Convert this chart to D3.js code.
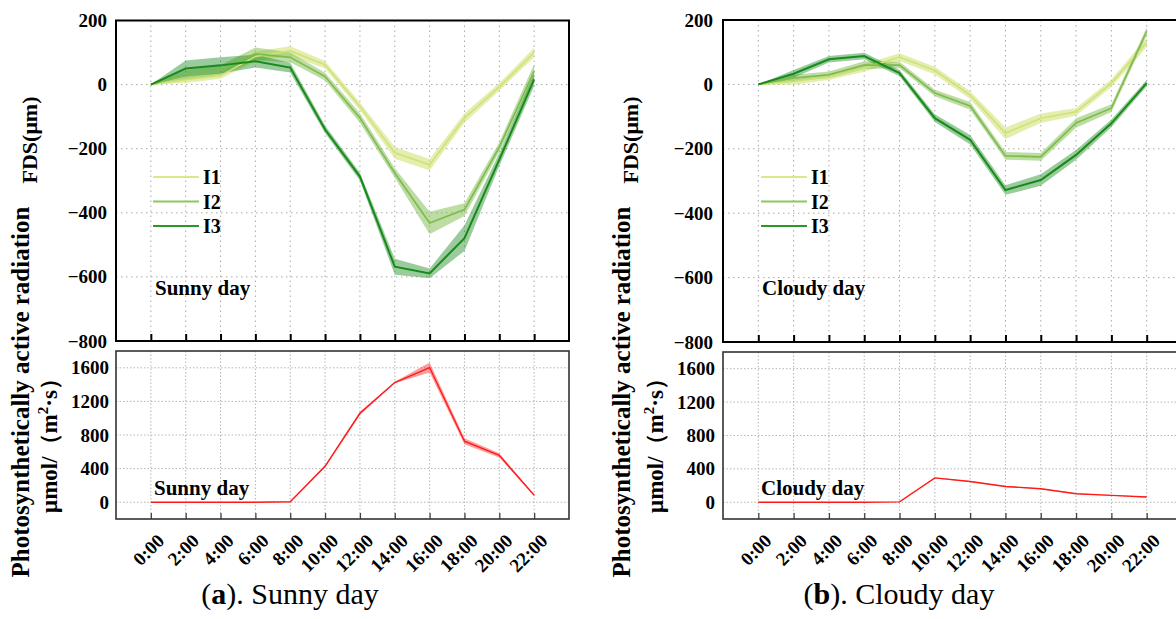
<!DOCTYPE html>
<html><head><meta charset="utf-8">
<script src="https://cdn.jsdelivr.net/npm/d3@7"></script>
<style>
html,body{margin:0;padding:0;background:#fff;}
svg{display:block;}
</style></head>
<body>
<svg id="chart" width="1176" height="619"></svg>
<script>
// ---------------- data ----------------
const hours = [0, 2, 4, 6, 8, 10, 12, 14, 16, 18, 20, 22];
const hourLabels = ["0:00","2:00","4:00","6:00","8:00","10:00","12:00","14:00","16:00","18:00","20:00","22:00"];
const fdsTicks = [-800, -600, -400, -200, 0, 200];
const parTicks = [0, 400, 800, 1200, 1600];
const seriesNames = ["I1", "I2", "I3"];

// Sunny day FDS (µm), mean and half band width
const sunnyI1    = [0, 15, 28, 88, 105, 62, -68, -213, -250, -104, -7, 100];
const sunnyI1Err = [0, 10, 10, 15, 15, 12, 12, 18, 18, 15, 12, 15];
const sunnyI2    = [0, 30, 45, 96, 85, 25, -104, -276, -432, -390, -195, 42];
const sunnyI2Err = [0, 15, 15, 20, 15, 12, 15, 15, 35, 20, 15, 22];
const sunnyI3    = [0, 50, 60, 73, 53, -140, -287, -568, -589, -479, -234, 16];
const sunnyI3Err = [0, 25, 25, 20, 15, 12, 12, 25, 15, 40, 20, 20];

// Cloudy day FDS (µm)
const cloudyI1    = [0, 9, 24, 51, 85, 43, -33, -152, -105, -85, 4, 130];
const cloudyI1Err = [0, 10, 10, 12, 12, 12, 12, 18, 15, 12, 12, 15];
const cloudyI2    = [0, 20, 30, 60, 60, -27, -67, -222, -225, -120, -74, 165];
const cloudyI2Err = [0, 10, 10, 12, 10, 10, 12, 12, 12, 15, 12, 12];
const cloudyI3    = [0, 33, 78, 88, 35, -105, -172, -328, -297, -219, -121, 4];
const cloudyI3Err = [0, 12, 10, 10, 10, 12, 15, 15, 18, 15, 12, 10];

// Photosynthetically active radiation µmol/(m²·s)
const parSunny     = [0, 0, 0, 0, 5, 427, 1058, 1425, 1603, 726, 557, 83];
const parSunnyErr  = [0, 0, 0, 0, 2, 15, 20, 10, 60, 35, 25, 5];
const parCloudy    = [0, 0, 0, 0, 5, 292, 249, 190, 162, 103, 83, 63];
const parCloudyErr = [0, 0, 0, 0, 2, 6, 6, 6, 6, 5, 5, 5];

// ---------------- styles ----------------
const lineColors = ["#cfe27a", "#7dbb4c", "#178a1a"];
const bandColors = ["rgba(205,226,110,0.55)", "rgba(125,187,76,0.5)", "rgba(30,140,35,0.45)"];
const legendColors = ["#d6e98c", "#8bc75a", "#2a992a"];
const lineWidths = [1.6, 1.6, 2];
const serif = "'Liberation Serif','Times New Roman',serif";

const svg = d3.select("#chart");

function fmt(d){ return d < 0 ? "\u2212" + Math.abs(d) : String(d); }

function drawPanel(p) {
  const g = svg.append("g");
  const x = d3.scaleLinear().domain([-2, 24]).range([p.left, p.right]);
  const yT = d3.scaleLinear().domain([-800, 200]).range([p.topB, p.topT]);
  const yB = d3.scaleLinear().domain([-200, 1800]).range([p.botB, p.botT]);

  // grid lines
  const grid = g.append("g").attr("stroke", "#a8a8a8").attr("stroke-width", 1)
    .attr("stroke-dasharray", "1.5,3.5");
  grid.selectAll(".vt").data(hours).join("line")
    .attr("x1", d => x(d)).attr("x2", d => x(d)).attr("y1", p.topT).attr("y2", p.topB);
  grid.selectAll(".ht").data(fdsTicks).join("line").attr("class","ht")
    .attr("x1", p.left).attr("x2", p.right).attr("y1", d => yT(d)).attr("y2", d => yT(d));
  const grid2 = g.append("g").attr("stroke", "#b4b4b4").attr("stroke-width", 1)
    .attr("stroke-dasharray", "1.5,2");
  grid2.selectAll(".vb").data(hours).join("line")
    .attr("x1", d => x(d)).attr("x2", d => x(d)).attr("y1", p.botT).attr("y2", p.botB);
  grid2.selectAll(".hb").data(parTicks).join("line")
    .attr("x1", p.left).attr("x2", p.right).attr("y1", d => yB(d)).attr("y2", d => yB(d));

  // FDS bands and lines
  p.fds.forEach((s, k) => {
    const area = d3.area().x((d, i) => x(hours[i]))
      .y0((d, i) => yT(d - s.err[i])).y1((d, i) => yT(d + s.err[i]));
    g.append("path").datum(s.val).attr("d", area).attr("fill", bandColors[k]);
  });
  p.fds.forEach((s, k) => {
    const line = d3.line().x((d, i) => x(hours[i])).y(d => yT(d));
    g.append("path").datum(s.val).attr("d", line).attr("fill", "none")
      .attr("stroke", lineColors[k]).attr("stroke-width", lineWidths[k]);
  });

  // PAR band and line
  const parArea = d3.area().x((d, i) => x(hours[i]))
    .y0((d, i) => yB(d - p.parErr[i])).y1((d, i) => yB(d + p.parErr[i]));
  g.append("path").datum(p.par).attr("d", parArea).attr("fill", "rgba(255,40,40,0.45)");
  g.append("path").datum(p.par).attr("d", d3.line().x((d, i) => x(hours[i])).y(d => yB(d)))
    .attr("fill", "none").attr("stroke", "#ff1a1a").attr("stroke-width", 1.4);

  // axes
  const ayT = g.append("g").attr("transform", `translate(${p.left},0)`)
    .call(d3.axisLeft(yT).tickValues(fdsTicks).tickSize(0).tickPadding(p.labPad).tickFormat(fmt));
  const ayB = g.append("g").attr("transform", `translate(${p.left},0)`)
    .call(d3.axisLeft(yB).tickValues(parTicks).tickSize(0).tickPadding(p.labPad - 2).tickFormat(fmt));
  [ayT, ayB].forEach(a => {
    a.attr("font-family", serif);
    a.select(".domain").remove();
    a.selectAll("text").attr("font-family", serif).attr("font-weight", "bold")
      .attr("font-size", 19).attr("fill", "#000");
  });

  const axT = g.append("g").attr("transform", `translate(0,${p.topB})`)
    .call(d3.axisBottom(x).tickValues(hours).tickSize(-7).tickFormat(""));
  axT.select(".domain").remove();
  axT.selectAll("line").attr("stroke", "#000").attr("stroke-width", 2);

  const axB = g.append("g").attr("transform", `translate(0,${p.botB})`)
    .call(d3.axisBottom(x).tickValues(hours).tickSize(-6).tickFormat((d, i) => hourLabels[i]));
  axB.attr("font-family", serif);
  axB.select(".domain").remove();
  axB.selectAll("line").attr("stroke", "#444").attr("stroke-width", 1.3);
  axB.selectAll("text")
    .attr("font-family", serif).attr("font-weight", "bold").attr("font-size", 19).attr("fill", "#000")
    .attr("text-anchor", "end").attr("dy", null).attr("y", null)
    .attr("transform", "translate(14,23) rotate(-45)");

  // frames
  g.append("rect").attr("x", p.left).attr("y", p.topT).attr("width", p.right - p.left)
    .attr("height", p.topB - p.topT).attr("fill", "none").attr("stroke", "#000").attr("stroke-width", 2);
  g.append("rect").attr("x", p.left).attr("y", p.botT).attr("width", p.right - p.left)
    .attr("height", p.botB - p.botT).attr("fill", "none").attr("stroke", "#333").attr("stroke-width", 1.6);

  // legend
  seriesNames.forEach((n, k) => {
    const ly = p.legY + k * 24.5;
    g.append("line").attr("x1", p.legX).attr("x2", p.legX + 46).attr("y1", ly).attr("y2", ly)
      .attr("stroke", legendColors[k]).attr("stroke-width", 2);
    g.append("text").attr("x", p.legX + 50).attr("y", ly).attr("dy", "0.35em")
      .attr("font-family", serif).attr("font-weight", "bold").attr("font-size", 20).text(n);
  });

  // in-plot labels
  g.append("text").attr("x", p.left + 39).attr("y", 295).attr("font-family", serif)
    .attr("font-weight", "bold").attr("font-size", 21).text(p.day);
  g.append("text").attr("x", p.left + 38).attr("y", 495).attr("font-family", serif)
    .attr("font-weight", "bold").attr("font-size", 21).text(p.day);

  // y titles
  g.append("text").attr("transform", `translate(${p.titleX + 29},392) rotate(-90)`)
    .attr("text-anchor", "middle").attr("font-family", serif).attr("font-weight", "bold")
    .attr("font-size", 25).text("Photosynthetically active radiation");
  g.append("text").attr("transform", `translate(${p.titleX + 37},140) rotate(-90)`)
    .attr("text-anchor", "middle").attr("font-family", serif).attr("font-weight", "bold")
    .attr("font-size", 22).text("FDS(\u03bcm)");
  const t3 = g.append("text").attr("transform", `translate(${p.unitX},440) rotate(-90)`)
    .attr("text-anchor", "middle").attr("font-family", serif).attr("font-weight", "bold")
    .attr("font-size", 23);
  t3.append("tspan").text("\u03bcmol/\uff08m");
  t3.append("tspan").attr("font-size", 15).attr("dy", "-0.6em").text("2");
  t3.append("tspan").attr("dy", "0.4em").text("\u00b7s\uff09");

  // caption
  const cap = g.append("text").attr("x", p.capX).attr("y", 604).attr("text-anchor", "middle")
    .attr("font-family", serif).attr("font-size", 30);
  cap.append("tspan").text("(");
  cap.append("tspan").attr("font-weight", "bold").text(p.letter);
  cap.append("tspan").text("). " + p.day);
}

drawPanel({
  left: 116, right: 569, topT: 20.5, topB: 341, botT: 351, botB: 519,
  labPad: 9, legX: 153, legY: 177, titleX: 0, unitX: 57, capX: 290,
  day: "Sunny day", letter: "a",
  fds: [{val: sunnyI1, err: sunnyI1Err}, {val: sunnyI2, err: sunnyI2Err}, {val: sunnyI3, err: sunnyI3Err}],
  par: parSunny, parErr: parSunnyErr
});
drawPanel({
  left: 723, right: 1182, topT: 20, topB: 342, botT: 352, botB: 519,
  labPad: 10, legX: 761, legY: 177, titleX: 601, unitX: 663, capX: 899,
  day: "Cloudy day", letter: "b",
  fds: [{val: cloudyI1, err: cloudyI1Err}, {val: cloudyI2, err: cloudyI2Err}, {val: cloudyI3, err: cloudyI3Err}],
  par: parCloudy, parErr: parCloudyErr
});
</script>
</body></html>
